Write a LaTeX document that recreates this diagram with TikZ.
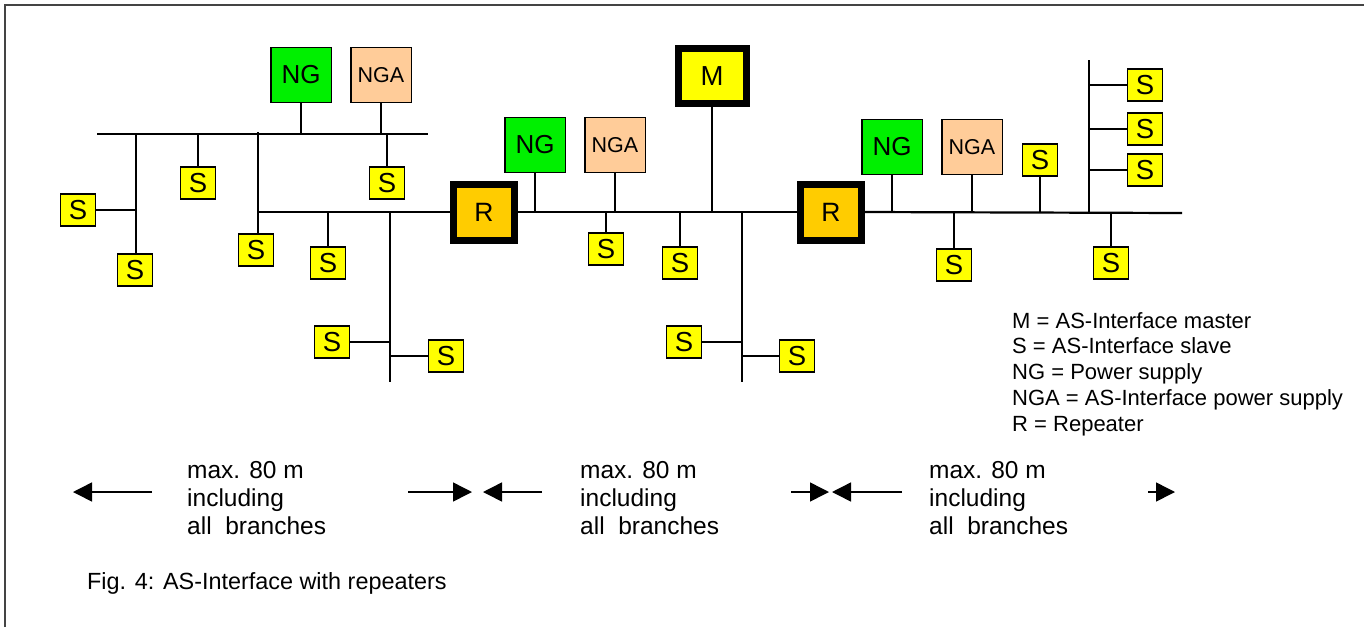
\documentclass[tikz,border=0pt]{standalone}
\usepackage{fontspec}
\setmainfont{Liberation Sans}
\usetikzlibrary{arrows.meta}
\definecolor{ngcol}{HTML}{00F000}
\definecolor{ngacol}{HTML}{FFCC99}
\definecolor{rcol}{HTML}{FFCC00}
\definecolor{scol}{HTML}{FFFF00}
\definecolor{framecol}{HTML}{444444}
\begin{document}
\begin{tikzpicture}[x=1pt,y=-1pt,
  box/.style={draw, line width=1.5pt, inner sep=0pt},
  sbox/.style={box, fill=scol, minimum width=35pt, minimum height=32pt, font=\fontsize{27.5}{27.5}\selectfont},
  ngbox/.style={box, fill=ngcol, minimum width=60.5pt, minimum height=55pt, font=\fontsize{26}{26}\selectfont},
  ngabox/.style={box, fill=ngacol, minimum width=60.5pt, minimum height=55pt, font=\fontsize{21.5}{21.5}\selectfont},
  rbox/.style={draw, line width=7pt, inner sep=0pt, fill=rcol, minimum width=61pt, minimum height=56pt, font=\fontsize{26.5}{26.5}\selectfont},
  mbox/.style={draw, line width=7pt, inner sep=0pt, fill=scol, minimum width=68pt, minimum height=55pt, font=\fontsize{27.5}{27.5}\selectfont},
  stem/.style={line width=1.5pt},
  bus/.style={line width=2.2pt},
  dimarrow/.style={line width=1.5pt, -{Triangle[length=19pt,width=19pt]}},
  txt/.style={anchor=base west, inner sep=0pt, font=\fontsize{22}{26}\selectfont},
  dimtxt/.style={txt, font=\fontsize{24.5}{28}\selectfont},
  captxt/.style={txt, font=\fontsize{23.4}{28}\selectfont},
  framestyle/.style={draw=framecol, line width=1.5pt}
]
\useasboundingbox (0,0) rectangle (1364,627);
% frame
\draw[framestyle] (5,627) -- (5,5) -- (1364,5);

% ---------- left segment ----------
\node[ngbox]  (ng1)  at (301,75) {NG};
\node[ngabox] (nga1) at (381,75) {NGA};
\coordinate (u0) at (97,134);
\coordinate (u1) at (428,134);
\node[sbox] (s1) at (78,210) {S};
\node[sbox] (s2) at (135,270) {S};
\node[sbox] (s3) at (198,183) {S};
\node[sbox] (s4) at (256,250) {S};
\node[sbox] (s5) at (328,263) {S};
\node[sbox] (s6) at (387,183) {S};
\node[sbox] (s7) at (332,342) {S};
\node[sbox] (s8) at (446,356) {S};
\node[rbox] (r1) at (484,212) {R};
\coordinate (j1) at (258,212);
\coordinate (v1t) at (390,212);
\coordinate (v1b) at (390,382);

\draw[bus] (u0) -- (u1);
\draw[stem] (ng1.south) -- (ng1.south |- u0);
\draw[stem] (nga1.south) -- (nga1.south |- u0);
\draw[stem] (136,134) -- (s2.north -| 136,0);
\draw[stem] (s1.east) -- (s1.east -| 136,0);
\draw[stem] (s3.north) -- (s3.north |- u0);
\draw[stem] (s6.north) -- (s6.north |- u0);
\draw[bus] (258,132) -- (s4.north -| j1);
\draw[bus] (j1) -- (r1.west);
\draw[stem] (s5.north) -- (s5.north |- j1);
\draw[bus] (v1t) -- (v1b);
\draw[stem] (s7.east) -- (s7.east -| v1t);
\draw[stem] (s8.west) -- (s8.west -| v1t);

% ---------- middle segment ----------
\node[ngbox]  (ng2)  at (535,145) {NG};
\node[ngabox] (nga2) at (615,145) {NGA};
\node[mbox]   (m)    at (712,76) {M};
\node[sbox] (s9)  at (606,249) {S};
\node[sbox] (s10) at (680,263) {S};
\node[sbox] (s11) at (684,342) {S};
\node[sbox] (s12) at (797,356) {S};
\node[rbox] (r2) at (831,212) {R};
\coordinate (v2t) at (742,212);
\coordinate (v2b) at (742,382);

\draw[bus] (r1.east) -- (r2.west);
\draw[stem] (ng2.south) -- (ng2.south |- r1.east);
\draw[stem] (nga2.south) -- (nga2.south |- r1.east);
\draw[stem] (m.south) -- (m.south |- r1.east);
\draw[stem] (s9.north) -- (s9.north |- r1.east);
\draw[stem] (s10.north) -- (s10.north |- r1.east);
\draw[bus] (v2t) -- (v2b);
\draw[stem] (s11.east) -- (s11.east -| v2t);
\draw[stem] (s12.west) -- (s12.west -| v2t);

% ---------- right segment ----------
\node[ngbox]  (ng3)  at (892,147) {NG};
\node[ngabox] (nga3) at (972,147) {NGA};
\node[sbox] (s13) at (1040,160) {S};
\node[sbox] (s14) at (1145,85) {S};
\node[sbox] (s15) at (1145,129) {S};
\node[sbox] (s16) at (1145,170) {S};
\node[sbox] (s17) at (954,265) {S};
\node[sbox] (s18) at (1111,263) {S};
\coordinate (bend) at (1182,213);
\coordinate (v3t) at (1089,60);
\coordinate (v3b) at (1089,213);

\draw[bus] (r2.east) -- (bend);
\draw[stem] (ng3.south) -- (ng3.south |- bend);
\draw[stem] (nga3.south) -- (nga3.south |- bend);
\draw[stem] (s13.south) -- (s13.south |- bend);
\draw[stem] (s17.north) -- (s17.north |- bend);
\draw[stem] (s18.north) -- (s18.north |- bend);
\draw[bus] (v3t) -- (v3b);
\draw[stem] (s14.west) -- (s14.west -| v3t);
\draw[stem] (s15.west) -- (s15.west -| v3t);
\draw[stem] (s16.west) -- (s16.west -| v3t);

% ---------- dimension arrows ----------
\coordinate (a1s) at (152,492); \coordinate (a1e) at (73,492);
\coordinate (a2s) at (408,492); \coordinate (a2e) at (472,492);
\coordinate (a3s) at (542,492); \coordinate (a3e) at (483,492);
\coordinate (a4s) at (791,492); \coordinate (a4e) at (829,492);
\coordinate (a5s) at (902,492); \coordinate (a5e) at (832,492);
\coordinate (a6s) at (1148,492); \coordinate (a6e) at (1175,492);
\draw[dimarrow] (a1s) -- (a1e);
\draw[dimarrow] (a2s) -- (a2e);
\draw[dimarrow] (a3s) -- (a3e);
\draw[dimarrow] (a4s) -- (a4e);
\draw[dimarrow] (a5s) -- (a5e);
\draw[dimarrow] (a6s) -- (a6e);

\foreach \xx/\nm in {187/la, 580/lb, 929/lc} {
  \node[dimtxt] (\nm1) at (\xx,478) {max. 80 m};
  \node[dimtxt] (\nm2) at (\xx,506) {including};
  \node[dimtxt] (\nm3) at (\xx,534) {all\ \ branches};
}

% ---------- legend ----------
\node[txt] (leg1) at (1012,328) {M = AS-Interface master};
\node[txt] (leg2) at (1012,353.8) {S = AS-Interface slave};
\node[txt] (leg3) at (1012,379.6) {NG = Power supply};
\node[txt] (leg4) at (1012,405.4) {NGA = AS-Interface power supply};
\node[txt] (leg5) at (1012,431.2) {R = Repeater};

% ---------- caption ----------
\node[captxt] (cap) at (87,589) {Fig. 4: AS-Interface with repeaters};
\end{tikzpicture}
\end{document}
